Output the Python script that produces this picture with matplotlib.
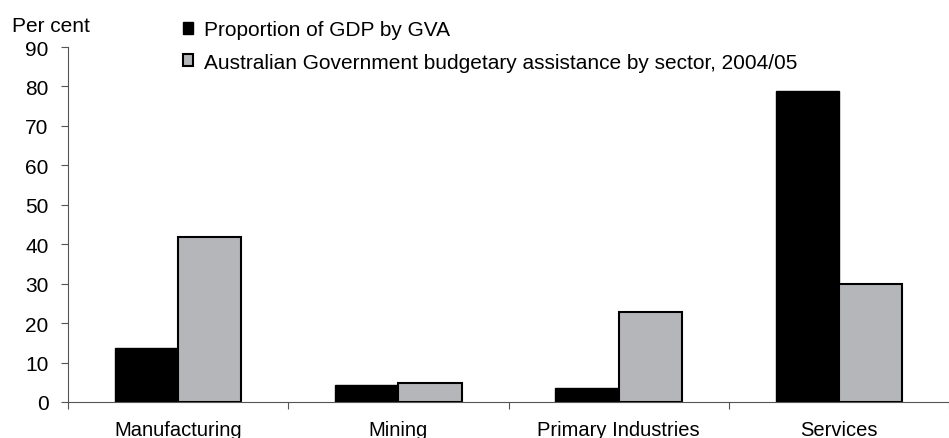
import numpy as np
import matplotlib.pyplot as plt

plt.rcParams['font.family'] = ['Liberation Sans', 'DejaVu Sans']

sectors = ['Manufacturing', 'Mining', 'Primary Industries', 'Services']
gdp_share = [13.7, 4.4, 3.5, 78.8]
assistance_share = [41.8, 4.8, 22.9, 29.9]
series_names = ['Proportion of GDP by GVA',
                'Australian Government budgetary assistance by sector, 2004/05']

W, H = 949, 439
fig = plt.figure(figsize=(W / 100, H / 100), dpi=100)
ax = fig.add_axes([68 / W, (H - 403) / H, 1 - 68 / W, (403 - 48) / H])

x = np.arange(len(sectors))
w = 0.287
b1 = ax.bar(x - w / 2, gdp_share, w, color='black', edgecolor='black', linewidth=1)
b2 = ax.bar(x + w / 2, assistance_share, w, color='#b5b6b9', edgecolor='black', linewidth=1.5)

ax.set_xlim(-0.5, 3.44)
ax.set_ylim(0, 90)
ax.set_yticks(range(0, 91, 10))
ax.set_xticks(np.arange(-0.5, 4, 1))
ax.set_xticklabels([])
ax.set_xticks(x, minor=True)
ax.set_xticklabels(sectors, minor=True)
ax.tick_params(axis='x', which='minor', length=0, pad=13, labelsize=14.5)
ax.tick_params(axis='x', which='major', length=5, color='#555555')
ax.tick_params(axis='y', length=5, color='#555555', labelsize=15, pad=9)

for s in ['top', 'right']:
    ax.spines[s].set_visible(False)
for s in ['left', 'bottom']:
    ax.spines[s].set_color('#555555')

fig.text(12 / W, 1 - 32 / H, 'Per cent', fontsize=15, va='baseline')
fig.legend([b1, b2], series_names, loc='upper left', bbox_to_anchor=(183 / W, 1 - 21 / H),
           frameon=False, fontsize=15, handlelength=0.5, handleheight=0.5,
           handletextpad=0.5, labelspacing=0.65, borderaxespad=0, borderpad=0)

fig.savefig('out.png', dpi=100)
